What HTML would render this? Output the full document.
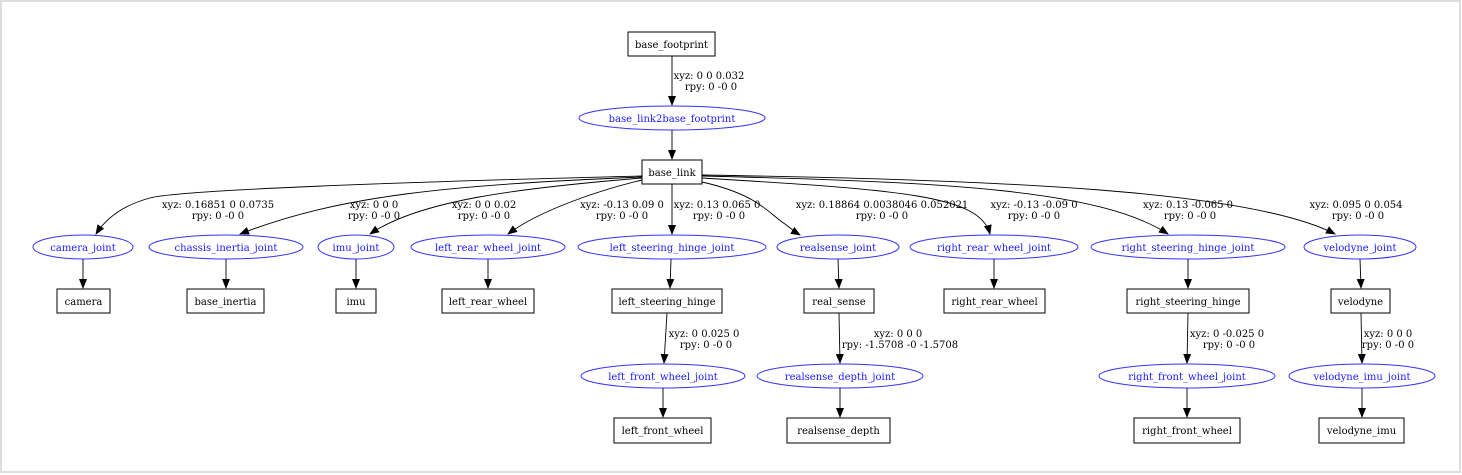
<!DOCTYPE html>
<html><head><style>
html,body{margin:0;padding:0;background:#fff;}
svg{display:block;}
text{font-family:"DejaVu Serif","Liberation Serif",serif;font-size:10px;}
.j{fill:#1a1aff;}
.e{fill:none;stroke:#000;stroke-width:0.9;}
.b{fill:#fff;stroke:#000;stroke-width:1;}
.o{fill:none;stroke:#3333ff;stroke-width:1;}
</style></head><body>
<svg width="1462" height="475" viewBox="0 0 1462 475" xmlns="http://www.w3.org/2000/svg">
<defs><marker id="a" markerWidth="10" markerHeight="8" refX="9" refY="4" orient="auto" markerUnits="userSpaceOnUse"><path d="M0,0 L10,4 L0,8 z" fill="#000"/></marker></defs>
<rect x="0" y="0" width="1462" height="475" fill="#fff"/>
<rect x="1" y="1" width="1459" height="471" fill="none" stroke="#ddd" stroke-width="2"/>

<!-- top -->
<rect class="b" x="628" y="32" width="87" height="24"/><text x="671.5" y="48" text-anchor="middle">base_footprint</text>
<path class="e" d="M672,56 L672,105" marker-end="url(#a)"/>
<text x="709" y="79" text-anchor="middle">xyz: 0 0 0.032</text><text x="711" y="90" text-anchor="middle">rpy: 0 -0 0</text>
<ellipse class="o" cx="672" cy="118" rx="93" ry="12"/><text class="j" x="672" y="122" text-anchor="middle">base_link2base_footprint</text>
<path class="e" d="M672,130 L672,159" marker-end="url(#a)"/>
<rect class="b" x="642" y="160" width="60" height="24"/><text x="672" y="176" text-anchor="middle">base_link</text>

<!-- edges from base_link -->
<path class="e" d="M642,176 C400,182 180,190 150,198 C120,206 105,220 96,234" marker-end="url(#a)"/>
<path class="e" d="M642,177 C450,185 340,195 240,234" marker-end="url(#a)"/>
<path class="e" d="M642,178 C520,188 420,200 370,234" marker-end="url(#a)"/>
<path class="e" d="M642,180 C600,190 540,210 508,234" marker-end="url(#a)"/>
<path class="e" d="M672,184 L672,234" marker-end="url(#a)"/>
<path class="e" d="M702,182 C760,195 770,215 785,224 C790,228 795,232 800,235" marker-end="url(#a)"/>
<path class="e" d="M702,178 C900,190 980,195 990,234" marker-end="url(#a)"/>
<path class="e" d="M702,176 C950,182 1100,190 1168,234" marker-end="url(#a)"/>
<path class="e" d="M702,175 C1000,180 1250,190 1335,234" marker-end="url(#a)"/>

<!-- row1 labels -->
<text x="218" y="208" text-anchor="middle">xyz: 0.16851 0 0.0735</text><text x="218" y="219" text-anchor="middle">rpy: 0 -0 0</text>
<text x="374" y="208" text-anchor="middle">xyz: 0 0 0</text><text x="374" y="219" text-anchor="middle">rpy: 0 -0 0</text>
<text x="484" y="208" text-anchor="middle">xyz: 0 0 0.02</text><text x="484" y="219" text-anchor="middle">rpy: 0 -0 0</text>
<text x="622" y="208" text-anchor="middle">xyz: -0.13 0.09 0</text><text x="622" y="219" text-anchor="middle">rpy: 0 -0 0</text>
<text x="717" y="208" text-anchor="middle">xyz: 0.13 0.065 0</text><text x="719" y="219" text-anchor="middle">rpy: 0 -0 0</text>
<text x="882" y="208" text-anchor="middle">xyz: 0.18864 0.0038046 0.052021</text><text x="882" y="219" text-anchor="middle">rpy: 0 -0 0</text>
<text x="1034" y="208" text-anchor="middle">xyz: -0.13 -0.09 0</text><text x="1034" y="219" text-anchor="middle">rpy: 0 -0 0</text>
<text x="1188" y="208" text-anchor="middle">xyz: 0.13 -0.065 0</text><text x="1190" y="219" text-anchor="middle">rpy: 0 -0 0</text>
<text x="1356" y="208" text-anchor="middle">xyz: 0.095 0 0.054</text><text x="1358" y="219" text-anchor="middle">rpy: 0 -0 0</text>

<!-- row1 joints -->
<ellipse class="o" cx="83" cy="247" rx="50" ry="12"/><text class="j" x="83" y="251" text-anchor="middle">camera_joint</text>
<ellipse class="o" cx="226" cy="247" rx="77" ry="12"/><text class="j" x="226" y="251" text-anchor="middle">chassis_inertia_joint</text>
<ellipse class="o" cx="356" cy="247" rx="38" ry="12"/><text class="j" x="356" y="251" text-anchor="middle">imu_joint</text>
<ellipse class="o" cx="488" cy="247" rx="77" ry="12"/><text class="j" x="488" y="251" text-anchor="middle">left_rear_wheel_joint</text>
<ellipse class="o" cx="672" cy="247" rx="94" ry="12"/><text class="j" x="672" y="251" text-anchor="middle">left_steering_hinge_joint</text>
<ellipse class="o" cx="838" cy="247" rx="61" ry="12"/><text class="j" x="838" y="251" text-anchor="middle">realsense_joint</text>
<ellipse class="o" cx="994" cy="247" rx="84" ry="12"/><text class="j" x="994" y="251" text-anchor="middle">right_rear_wheel_joint</text>
<ellipse class="o" cx="1188" cy="247" rx="97" ry="12"/><text class="j" x="1188" y="251" text-anchor="middle">right_steering_hinge_joint</text>
<ellipse class="o" cx="1360" cy="247" rx="56" ry="12"/><text class="j" x="1360" y="251" text-anchor="middle">velodyne_joint</text>

<!-- row1 joint->box -->
<path class="e" d="M83,259 L83,288" marker-end="url(#a)"/>
<path class="e" d="M226,259 L226,288" marker-end="url(#a)"/>
<path class="e" d="M356,259 L356,288" marker-end="url(#a)"/>
<path class="e" d="M488,259 L488,288" marker-end="url(#a)"/>
<path class="e" d="M671,259 L670,288" marker-end="url(#a)"/>
<path class="e" d="M838,259 L839,288" marker-end="url(#a)"/>
<path class="e" d="M994,259 L994,288" marker-end="url(#a)"/>
<path class="e" d="M1188,259 L1188,288" marker-end="url(#a)"/>
<path class="e" d="M1360,259 L1361,288" marker-end="url(#a)"/>

<!-- row1 boxes -->
<rect class="b" x="57" y="289" width="53" height="24"/><text x="83.5" y="305" text-anchor="middle">camera</text>
<rect class="b" x="187" y="289" width="77" height="24"/><text x="225.5" y="305" text-anchor="middle">base_inertia</text>
<rect class="b" x="336" y="289" width="40" height="24"/><text x="356" y="305" text-anchor="middle">imu</text>
<rect class="b" x="442" y="289" width="92" height="24"/><text x="488" y="305" text-anchor="middle">left_rear_wheel</text>
<rect class="b" x="612" y="289" width="110" height="24"/><text x="667" y="305" text-anchor="middle">left_steering_hinge</text>
<rect class="b" x="804" y="289" width="70" height="24"/><text x="839" y="305" text-anchor="middle">real_sense</text>
<rect class="b" x="944" y="289" width="101" height="24"/><text x="994.5" y="305" text-anchor="middle">right_rear_wheel</text>
<rect class="b" x="1127" y="289" width="122" height="24"/><text x="1188" y="305" text-anchor="middle">right_steering_hinge</text>
<rect class="b" x="1331" y="289" width="59" height="24"/><text x="1360.5" y="305" text-anchor="middle">velodyne</text>

<!-- row2 edges -->
<path class="e" d="M667,313 L664,363" marker-end="url(#a)"/>
<path class="e" d="M839,313 L840,363" marker-end="url(#a)"/>
<path class="e" d="M1188,313 L1187,363" marker-end="url(#a)"/>
<path class="e" d="M1361,313 L1362,363" marker-end="url(#a)"/>
<text x="704" y="337" text-anchor="middle">xyz: 0 0.025 0</text><text x="706" y="348" text-anchor="middle">rpy: 0 -0 0</text>
<text x="898" y="337" text-anchor="middle">xyz: 0 0 0</text><text x="900" y="348" text-anchor="middle">rpy: -1.5708 -0 -1.5708</text>
<text x="1227" y="337" text-anchor="middle">xyz: 0 -0.025 0</text><text x="1229" y="348" text-anchor="middle">rpy: 0 -0 0</text>
<text x="1388" y="337" text-anchor="middle">xyz: 0 0 0</text><text x="1388" y="348" text-anchor="middle">rpy: 0 -0 0</text>

<ellipse class="o" cx="663" cy="376" rx="82" ry="12"/><text class="j" x="663" y="380" text-anchor="middle">left_front_wheel_joint</text>
<ellipse class="o" cx="840" cy="376" rx="83" ry="12"/><text class="j" x="840" y="380" text-anchor="middle">realsense_depth_joint</text>
<ellipse class="o" cx="1187" cy="376" rx="88" ry="12"/><text class="j" x="1187" y="380" text-anchor="middle">right_front_wheel_joint</text>
<ellipse class="o" cx="1362" cy="376" rx="73" ry="12"/><text class="j" x="1362" y="380" text-anchor="middle">velodyne_imu_joint</text>

<path class="e" d="M663,388 L663,417" marker-end="url(#a)"/>
<path class="e" d="M840,388 L840,417" marker-end="url(#a)"/>
<path class="e" d="M1187,388 L1187,417" marker-end="url(#a)"/>
<path class="e" d="M1362,388 L1362,417" marker-end="url(#a)"/>

<rect class="b" x="614" y="418" width="97" height="25"/><text x="662.5" y="434" text-anchor="middle">left_front_wheel</text>
<rect class="b" x="787" y="418" width="103" height="25"/><text x="838.5" y="434" text-anchor="middle">realsense_depth</text>
<rect class="b" x="1134" y="418" width="106" height="25"/><text x="1187" y="434" text-anchor="middle">right_front_wheel</text>
<rect class="b" x="1319" y="418" width="85" height="25"/><text x="1361.5" y="434" text-anchor="middle">velodyne_imu</text>
</svg>
</body></html>
